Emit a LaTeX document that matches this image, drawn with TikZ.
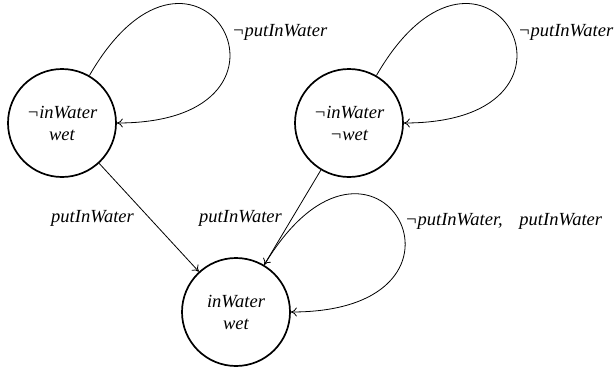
\documentclass[tikz,border=0pt]{standalone}
\usepackage{fontspec}
\setmainfont{Liberation Serif}
\usetikzlibrary{arrows.meta}
\begin{document}
\begin{tikzpicture}[x=1pt,y=-1pt,
  every node/.style={font=\fontsize{18.5}{22}\selectfont\itshape},
  state/.style={circle,draw,line width=1.7pt,minimum size=108pt,inner sep=0pt,align=center},
  edge/.style={line width=0.8pt,-{To[length=6pt,width=9pt]}},
  lbl/.style={inner sep=0pt}]
\useasboundingbox (0,0) rectangle (616,370);
\node[state] (A) at (62,123) {¬inWater\\wet};
\node[state] (B) at (349,123) {¬inWater\\¬wet};
\node[state] (C) at (236,312) {inWater\\wet};
\draw[edge] (A.60) .. controls +(-60:215) and +(0:212) .. (A.east);
\draw[edge] (B.60) .. controls +(-60:215) and +(0:212) .. (B.east);
\draw[edge] (C.59) .. controls +(-59:215) and +(0:212) .. (C.east);
\draw[edge] (A) -- (C);
\draw[edge] (B) -- (C);
\node[lbl,anchor=base west] (la) at (232,36) {¬putInWater};
\node[lbl,anchor=base west] (lb) at (518,36) {¬putInWater};
\node[lbl,anchor=base west] (lc) at (405,225) {¬putInWater,\hspace{0.9em}putInWater};
\node[lbl,anchor=base east] (lac) at (134,222) {putInWater};
\node[lbl,anchor=base east] (lbc) at (282,222) {putInWater};
\end{tikzpicture}
\end{document}
